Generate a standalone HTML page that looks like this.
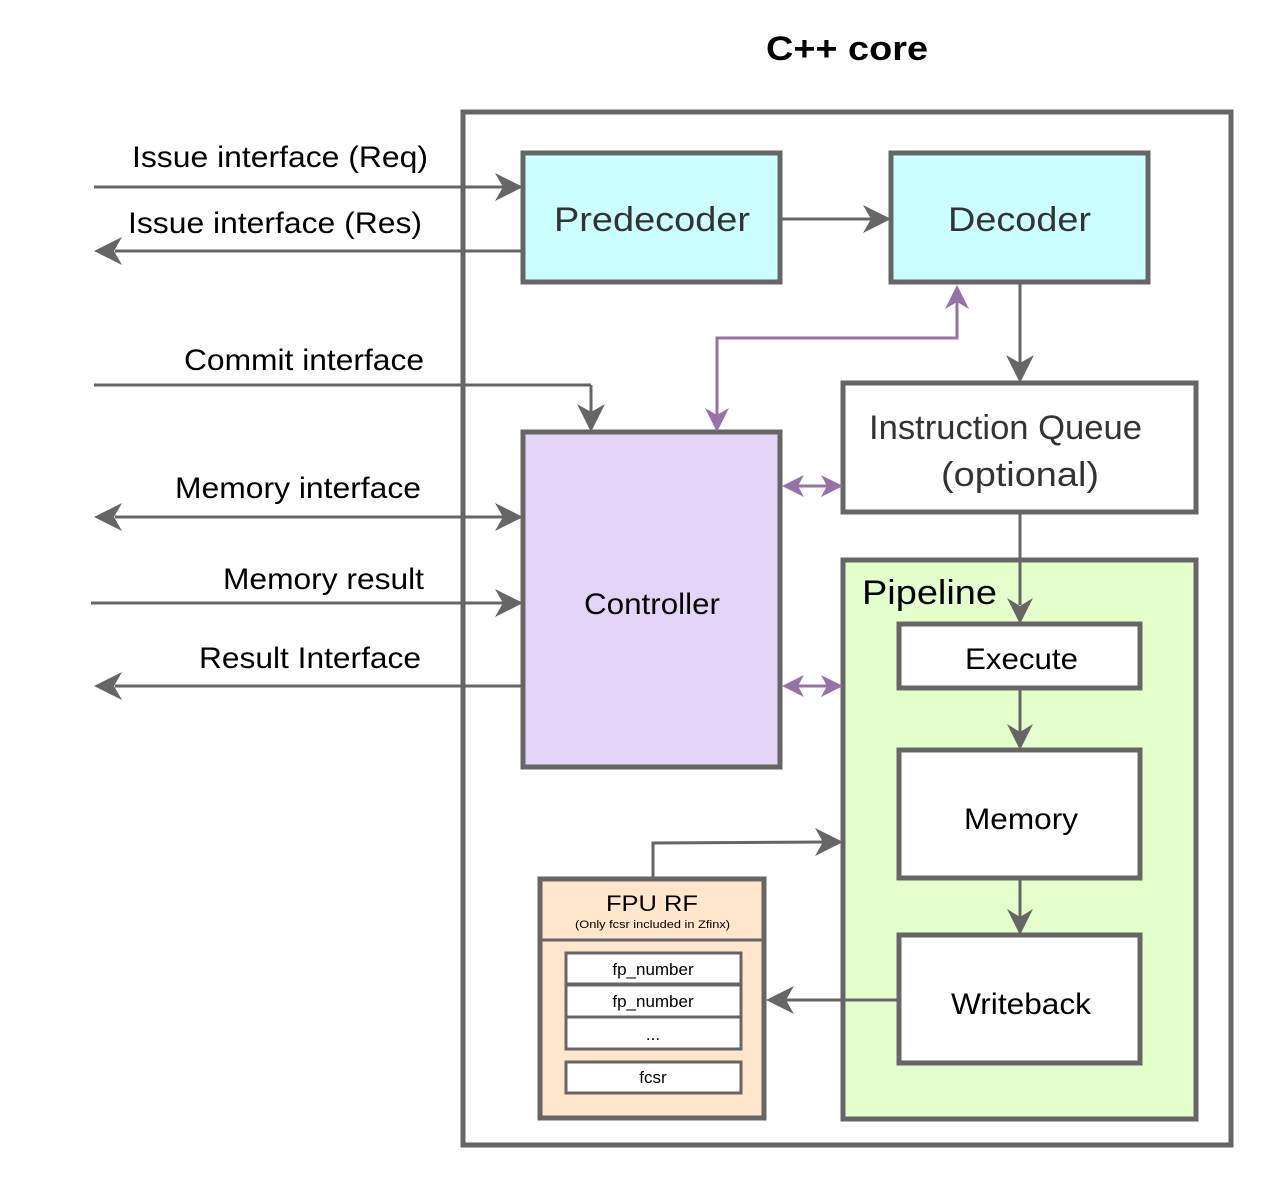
<!DOCTYPE html>
<html><head><meta charset="utf-8"><style>
html,body{margin:0;padding:0;background:#fff;}
svg{display:block;font-family:"Liberation Sans",Arial,sans-serif;}
</style></head><body>
<svg width="1272" height="1193" viewBox="0 0 1272 1193" xmlns="http://www.w3.org/2000/svg">
<text x="766" y="60" font-size="34" font-weight="bold" fill="#000" textLength="162" lengthAdjust="spacingAndGlyphs">C++ core</text>

<rect x="463" y="112" width="768" height="1033" fill="none" stroke="#666" stroke-width="5"/>

<rect x="523" y="153" width="257" height="129" fill="#ccffff" stroke="#666" stroke-width="5"/>
<text x="554" y="231" font-size="34" fill="#333" textLength="196" lengthAdjust="spacingAndGlyphs">Predecoder</text>
<rect x="891" y="153" width="257" height="129" fill="#ccffff" stroke="#666" stroke-width="5"/>
<text x="948" y="231" font-size="34" fill="#333" textLength="143" lengthAdjust="spacingAndGlyphs">Decoder</text>
<rect x="843" y="383" width="353" height="129" fill="#fff" stroke="#666" stroke-width="5"/>
<text x="869" y="439" font-size="34" fill="#333" textLength="273" lengthAdjust="spacingAndGlyphs">Instruction Queue</text>
<text x="941" y="486" font-size="34" fill="#333" textLength="158" lengthAdjust="spacingAndGlyphs">(optional)</text>
<rect x="523" y="432" width="257" height="335" fill="#e4d4f8" stroke="#666" stroke-width="5"/>
<text x="584" y="614" font-size="30" fill="#000" textLength="136" lengthAdjust="spacingAndGlyphs">Controller</text>
<rect x="843" y="560" width="353" height="559" fill="#e5ffcc" stroke="#666" stroke-width="5"/>
<text x="862" y="604" font-size="34" fill="#000" textLength="135" lengthAdjust="spacingAndGlyphs">Pipeline</text>
<rect x="899" y="624" width="241" height="64" fill="#fff" stroke="#666" stroke-width="5"/>
<text x="965" y="669" font-size="30" fill="#000" textLength="113" lengthAdjust="spacingAndGlyphs">Execute</text>
<rect x="899" y="750" width="241" height="128" fill="#fff" stroke="#666" stroke-width="5"/>
<text x="964" y="829" font-size="30" fill="#000" textLength="114" lengthAdjust="spacingAndGlyphs">Memory</text>
<rect x="899" y="935" width="241" height="128" fill="#fff" stroke="#666" stroke-width="5"/>
<text x="951" y="1014" font-size="30" fill="#000" textLength="140" lengthAdjust="spacingAndGlyphs">Writeback</text>

<rect x="540" y="879" width="224" height="239" fill="#ffe6cc" stroke="#666" stroke-width="5"/>
<line x1="540" y1="940" x2="764" y2="940" stroke="#666" stroke-width="3"/>
<text x="606" y="911" font-size="22" fill="#000" textLength="92" lengthAdjust="spacingAndGlyphs">FPU RF</text>
<text x="575" y="928" font-size="11" fill="#000" textLength="155" lengthAdjust="spacingAndGlyphs">(Only fcsr included in Zfinx)</text>
<g stroke="#666" stroke-width="3" fill="#fff">
<rect x="566" y="953" width="175" height="31"/>
<rect x="566" y="985" width="175" height="32"/>
<rect x="566" y="1017" width="175" height="32"/>
<rect x="566" y="1062" width="175" height="31"/>
</g>
<g font-size="17" text-anchor="middle" fill="#000">
<text x="653" y="975">fp_number</text>
<text x="653" y="1007">fp_number</text>
<text x="653" y="1040">...</text>
<text x="653" y="1083">fcsr</text>
</g>

<g stroke="#666" stroke-width="3" fill="none">
<line x1="94" y1="187" x2="505" y2="187"/>
<line x1="115" y1="251" x2="523" y2="251"/>
<line x1="94" y1="385" x2="591" y2="385"/>
<line x1="591" y1="385" x2="591" y2="412"/>
<line x1="115" y1="517" x2="505" y2="517"/>
<line x1="91" y1="603" x2="505" y2="603"/>
<line x1="115" y1="686" x2="523" y2="686"/>
<line x1="780" y1="219" x2="875" y2="219"/>
<line x1="1020" y1="282" x2="1020" y2="365"/>
<line x1="1020" y1="512" x2="1020" y2="605"/>
<line x1="1020" y1="688" x2="1020" y2="732"/>
<line x1="1020" y1="878" x2="1020" y2="917"/>
<line x1="899" y1="1000" x2="785" y2="1000"/>
<polyline points="653,879 653,843 825,842"/>
</g>
<g fill="#666">
<path d="M523,187 l-28,-14 l8,14 l-8,14z"/>
<path d="M94,251 l28,-14 l-8,14 l8,14z"/>
<path d="M591,432 l-14,-28 l14,8 l14,-8z"/>
<path d="M94,517 l28,-14 l-8,14 l8,14z"/>
<path d="M523,517 l-28,-14 l8,14 l-8,14z"/>
<path d="M523,603 l-28,-14 l8,14 l-8,14z"/>
<path d="M94,686 l28,-14 l-8,14 l8,14z"/>
<path d="M891,219 l-28,-14 l8,14 l-8,14z"/>
<path d="M1020,383 l-14,-28 l14,8 l14,-8z"/>
<path d="M1020,624 l-13,-26 l13,8 l13,-8z"/>
<path d="M1020,750 l-13,-26 l13,8 l13,-8z"/>
<path d="M1020,935 l-13,-26 l13,8 l13,-8z"/>
<path d="M766,1000 l28,-14 l-8,14 l8,14z"/>
<path d="M843,842 l-28,-14 l8,14 l-8,14z"/>
</g>

<g stroke="#9673a6" stroke-width="3" fill="none">
<polyline points="717,415 717,338 957,338 957,300"/>
<line x1="795" y1="486" x2="828" y2="486"/>
<line x1="795" y1="686" x2="828" y2="686"/>
</g>
<g fill="#9673a6">
<path d="M957,285 l-12,24 l12,-7 l12,7z"/>
<path d="M717,432 l-12,-24 l12,7 l12,-7z"/>
<path d="M782,486 l22,-11 l-6,11 l6,11z"/>
<path d="M843,486 l-22,-11 l6,11 l-6,11z"/>
<path d="M782,686 l22,-11 l-6,11 l6,11z"/>
<path d="M843,686 l-22,-11 l6,11 l-6,11z"/>
</g>

<g font-size="30" fill="#000">
<text x="132" y="167" textLength="296" lengthAdjust="spacingAndGlyphs">Issue interface (Req)</text>
<text x="128" y="233" textLength="294" lengthAdjust="spacingAndGlyphs">Issue interface (Res)</text>
<text x="184" y="370" textLength="240" lengthAdjust="spacingAndGlyphs">Commit interface</text>
<text x="175" y="498" textLength="246" lengthAdjust="spacingAndGlyphs">Memory interface</text>
<text x="223" y="589" textLength="201" lengthAdjust="spacingAndGlyphs">Memory result</text>
<text x="199" y="668" textLength="222" lengthAdjust="spacingAndGlyphs">Result Interface</text>
</g>
</svg>
</body></html>
